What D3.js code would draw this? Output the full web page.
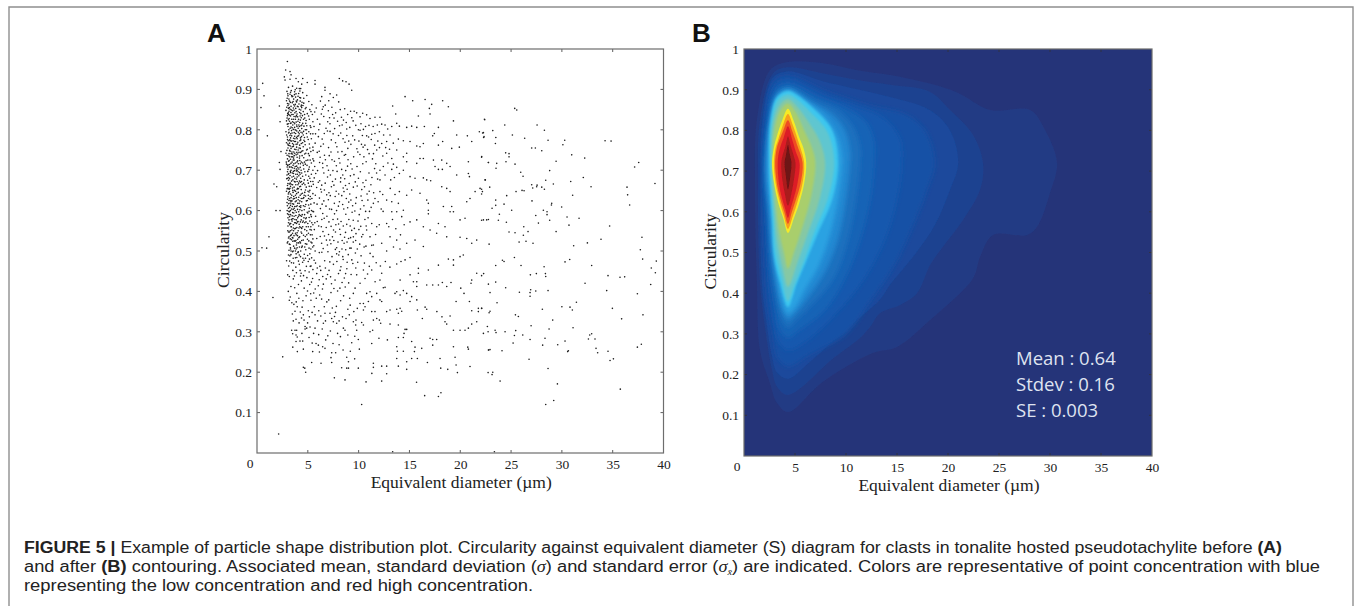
<!DOCTYPE html>
<html>
<head>
<meta charset="utf-8">
<script src="https://cdn.jsdelivr.net/npm/d3@7"></script>
<style>
html, body { margin: 0; background: #fff; }
svg { display: block; }
.tick text, .tick-zero { font-family: "Liberation Serif", serif; font-size: 13.5px; fill: #222; }
.ax-title { font-family: "Liberation Serif", serif; font-size: 17.5px; fill: #222; }
.panel { font-family: "Liberation Sans", sans-serif; font-weight: 700; font-size: 26px; fill: #111; }
.stats { font-family: "Open Sans", sans-serif; font-size: 18.5px; fill: #dfe3f0; }
.cap { font-family: "Liberation Sans", sans-serif; font-size: 16px; fill: #222; }
</style>
</head>
<body>
<div id="chart"></div>
<script>
// all lists below are flat: diameter, circularity, diameter, circularity ...
let xTicks = [5, 10, 15, 20, 25, 30, 35, 40];
let yTicks = [0.1, 0.2, 0.3, 0.4, 0.5, 0.6, 0.7, 0.8, 0.9, 1];

// panel A
let strayPts = [2.99,.969,2.82,.948,3.25,.944,3.35,.936,2.69,.931,3.25,.925,2.76,.923,3.84,.927,4.07,.919,4.5,.927,4.4,.913,4.95,.917,.56,.915,.69,.884,.39,.855,1.02,.785,2.2,.859,2.27,.82,2.36,.746,2.2,.719,2.27,.702,1.67,.666,1.94,.659,1.87,.6,2.27,.6,1.18,.535,.49,.508,.95,.507,1.57,.385,2.53,.238,2.13,.047,10.3,.12,16.5,.142,17.85,.14,18.1,.149,13.35,.003,23.36,.003];

let tailPts = [25.36,.853,25.56,.849,22.41,.825,24.38,.812,27.56,.812,28.28,.799,23.2,.798,22.2,.792,25.13,.787,23.5,.781,22.3,.781,26.34,.779,28.64,.774,30.28,.774,30.1,.763,23.46,.766,34.25,.773,34.84,.772,27.03,.755,27.39,.755,28.02,.748,24.47,.743,24.8,.741,24.8,.733,30.97,.738,22.1,.732,32.25,.73,24.5,.721,22.77,.719,23.59,.717,25.39,.715,29.43,.722,37.56,.719,37.16,.708,23.52,.705,28.8,.699,25.95,.695,26.18,.685,32.11,.682,22.47,.676,28.41,.675,30.87,.672,29.16,.666,39.16,.667,27.03,.664,27.56,.663,27.52,.659,28.02,.658,27.13,.656,28.28,.653,22.9,.658,22.1,.653,32.87,.659,36.41,.658,26.08,.65,26.28,.649,25.49,.647,22.1,.641,24.57,.637,31.06,.638,36.47,.639,23.49,.626,27.06,.624,29,.618,28.97,.614,23.49,.613,24.31,.616,36.67,.614,29.98,.609,23.13,.606,25.06,.601,28.18,.601,28.54,.597,28.54,.59,23.85,.591,27.43,.588,30.51,.584,31.69,.581,22.1,.576,22.6,.577,23.75,.576,28.8,.576,24.54,.571,27.69,.569,30.7,.564,34.7,.562,26.25,.56,26.67,.548,24.8,.547,25.39,.545,29.43,.548,26.21,.539,37.88,.534,33.85,.529,26.47,.524,25.79,.522,27.16,.519,32.51,.52,22.84,.517,31.16,.513,37.72,.503,25.33,.484,24.15,.477,30.77,.479,37.95,.48,
24.31,.474,23.49,.464,25.98,.464,28.25,.461,30.31,.473,32.93,.464,39.29,.475,38.8,.458,22.1,.439,22.3,.444,26.9,.441,27.49,.444,28.38,.444,28.41,.437,34.54,.439,35.72,.435,36.18,.436,39.2,.446,23.49,.423,22.77,.418,32.28,.42,38.74,.417,24.47,.409,26.93,.404,26.87,.397,27.43,.401,28.64,.402,25.82,.398,22.93,.397,34.41,.402,37.43,.394,26.87,.388,23.62,.372,31.43,.373,30,.362,30.8,.361,31.03,.354,34.97,.358,22.1,.358,28.08,.356,22.93,.351,22.84,.347,25.43,.342,25.72,.338,37.98,.342,35.88,.332,29.1,.329,26.97,.315,22.67,.313,31.1,.31,28.74,.307,23.43,.304,22.74,.3,23.52,.298,24.41,.3,25.46,.303,22.28,.296,25.33,.291,26.15,.292,32.93,.295,32.74,.292,28.34,.284,26.87,.281,32.61,.282,33.26,.282,30.31,.277,25.2,.272,29.59,.268,28.11,.267,37.82,.269,37.43,.262,33.36,.259,22.93,.256,22.8,.255,24.11,.253,30.64,.253,30.57,.251,34.54,.252,33.52,.248,35.07,.233,34.74,.229,26.77,.232,28.64,.209,22.74,.199,23.2,.2,23.13,.194,23.92,.178,29.56,.171,35.75,.158,29.2,.13,28.41,.12];

let lowerPts = [15.7,.175,10.73,.176,12.27,.178,8.66,.181,7.61,.186,4.79,.2,4.56,.212,4.7,.21,11.3,.197,12.76,.196,14.73,.207,13.91,.215,12.27,.215,12.76,.215,11.45,.222,11.45,.212,9.97,.21,9,.21,8.33,.211,8.83,.21,9,.226,8.83,.237,7.35,.224,7.28,.236,7.74,.248,7.35,.248,5.38,.224,6.3,.222,6.14,.25,5.48,.251,5.81,.271,6.04,.267,6.46,.263,6.69,.259,6.76,.28,4.56,.257,3.97,.251,4.5,.277,4.23,.277,3.84,.276,3.41,.304,3.74,.304,3.9,.304,3.51,.295,3.84,.292,4.73,.313,4.89,.309,4.73,.307,3.84,.331,4.56,.342,5.15,.337,5.71,.342,5.05,.352,5.64,.362,6.69,.346,7.35,.333,7.51,.325,7.84,.321,6.53,.321,5.71,.309,8.5,.309,8.66,.304,9.48,.325,9.74,.329,9.71,.317,10.3,.323,10.47,.317,9.81,.304,9.97,.281,10.07,.257,11.29,.271,11.12,.3,11.38,.304,12,.284,12.83,.28,11.45,.329,11.78,.333,12.04,.329,12.17,.321,10.47,.354,10.63,.362,11.29,.35,11.61,.35,12.76,.35,13.09,.354,13.75,.356,14.08,.358,13.91,.346,14.24,.351,13.09,.319,13.91,.317,14.57,.306,14.73,.306,14.47,.296,13.91,.286,14.4,.286,15.22,.276,13.75,.263,13.81,.252,14.4,.252,15.55,.262,15.49,.251,16.21,.259,13.75,.234,14.73,.226,15.22,.234,15.78,.234,16.77,.224,18.01,.234,18.08,.21,18.77,.207,19.33,.263,19.49,.237,19.59,.218,19.72,.199,20.96,.214,20.74,.262,20.8,.257,22.77,.255,16.27,.333,17.03,.284,17.29,.281,17.68,.281,17.29,.267,17.7,.35,18.2,.337,18.5,.325,18.67,.319,19,.339,19.33,.304,19.98,.304,20.47,.304,20.8,.309,21.13,.319,21.62,.325,21.13,.352,21.78,.35,22.11,.358,21.78,.358,
13.58,.395,13.75,.399,14.08,.391,14.4,.402,14.73,.395,15.22,.387,14.08,.428,14.17,.474,14.57,.478,15.06,.484,13.75,.468,15.06,.441,15.39,.424,15.72,.424,15.88,.457,15.88,.445,15.72,.412,16.7,.416,17.29,.416,17.85,.416,18.24,.422,18.67,.412,19.09,.422,20.05,.408,19.59,.375,20.9,.375,20.37,.395,21.06,.42,21.13,.428,21.62,.445,19.33,.478,18.83,.48,20.3,.49,19.98,.486,19.33,.465,17.85,.465,16.86,.453,16.54,.361,16.7,.356,15.78,.354,15.72,.379,15.06,.375,12.27,.445,12.1,.428,12.43,.409,12.6,.41,11.62,.424,11.78,.395,11.12,.399,10.79,.395,10.47,.453,10.63,.432,11.29,.453,9.81,.441,10.14,.42,9.65,.408,9.48,.395,10.14,.37,10.47,.37,10.96,.375,12.1,.379,12.27,.375,11.29,.387,
8.23,.377,7.41,.359,6.87,.374,6.36,.381,7.72,.348,8.94,.356,9.17,.366,8.41,.337,6.08,.352,5.31,.378,4.44,.361,3.63,.368,3.27,.386,3.92,.395,4.83,.389,5.58,.396,6.44,.406,7.06,.379,7.93,.401,8.68,.411,9.12,.383,8.37,.422,7.57,.407,6.81,.431,6.03,.414,5.19,.417,4.37,.426,3.71,.409,3.18,.437,3.88,.446,4.73,.451,5.47,.432,6.27,.452,7.24,.436,8.02,.444,8.84,.456,9.43,.469,8.26,.461,7.52,.467,6.66,.476,5.93,.458,5.04,.474,4.16,.467,3.53,.452,3.02,.441,2.91,.476,3.34,.491,4.03,.496,4.77,.482,5.62,.477,6.38,.497,7.17,.473,8.05,.49,8.87,.472,9.68,.495,10.57,.47,11.42,.486,12.63,.474,13.08,.46,
3.43,.372,3.86,.374,4.12,.383,4.52,.377,4.97,.401,5.28,.394,5.83,.383,6.17,.391,6.62,.362,7.28,.397,7.81,.363,8.52,.389,3.34,.412,3.57,.431,4.08,.417,4.28,.438,4.64,.408,4.91,.434,5.36,.423,5.73,.406,5.88,.444,6.12,.429,6.53,.418,6.94,.442,7.33,.419,7.68,.428,8.16,.408,8.59,.433,9.02,.421,9.26,.442,9.72,.458,3.12,.463,3.39,.471,3.68,.438,3.78,.483,4.24,.452,4.49,.472,4.58,.439,5.13,.448,5.32,.463,5.76,.47,6.19,.462,6.47,.437,6.73,.458,7.09,.452,7.38,.486,7.86,.474,8.18,.452,8.48,.479,8.72,.444,9.33,.478,9.91,.472,10.24,.488,10.88,.443,11.05,.462,11.73,.471,12.14,.463,3.08,.4,3.18,.378,3.74,.351,3.96,.362,4.26,.349,4.63,.329,4.98,.322,5.42,.348,5.96,.327,6.28,.339,6.74,.327,7.18,.346,7.63,.338,8.08,.327,8.76,.333,9.08,.342,9.53,.35,9.87,.358,3.48,.344,3.57,.327,4.14,.322,4.38,.334,5.22,.312,5.57,.296,6.07,.293,6.42,.307,6.97,.29,7.22,.302,7.93,.296,8.21,.288,8.94,.292,9.32,.273,9.62,.289,3.52,.262,3.96,.287,4.42,.296,5.12,.286,5.43,.272,7.48,.271,8.08,.268,8.47,.255,9.18,.252,9.61,.233];

let midPts = [6.69,.905,6.69,.898,8.1,.927,8.43,.921,8.76,.919,9.06,.913,9.32,.898,5.71,.922,5.71,.913,7.84,.886,7.19,.889,7.51,.88,6.37,.882,14.57,.882,15.32,.872,16.54,.875,18.27,.872,18.83,.857,17.19,.863,16.96,.853,17.03,.839,13.35,.859,13.65,.839,15.88,.834,19.33,.822,22.38,.826,9.81,.842,10.4,.841,10.14,.832,10.79,.837,11.12,.828,11.61,.831,12.1,.831,11.84,.812,12.27,.814,12.6,.812,13.75,.816,14.01,.809,13.26,.808,14.73,.806,15.22,.809,15.72,.806,16.47,.808,17.85,.806,17.45,.791,17.29,.785,19.65,.787,20.7,.785,21.88,.795,22.28,.793,22.34,.783,21.13,.771,22.11,.734,20.8,.721,22.77,.719,19.16,.754,19.91,.757,18.27,.771,17.85,.762,16.37,.766,15.72,.76,16.04,.758,15.06,.771,14.4,.773,13.91,.777,13.09,.787,12.76,.771,12.27,.766,11.61,.791,11.29,.789,10.79,.785,10.14,.799,10.47,.801,11.78,.75,13.75,.75,14.73,.742,16.04,.729,16.37,.729,15.72,.717,14.73,.721,14.4,.733,13.26,.729,12.76,.742,18.18,.725,18.67,.717,17.52,.709,17.85,.702,18.24,.702,19,.709,17.36,.725,16.37,.681,16.7,.676,17.09,.674,15.55,.68,15.06,.684,14.4,.7,13.75,.707,14.01,.692,13.26,.702,12.43,.709,12.1,.7,12.1,.676,12.6,.688,18.18,.659,18.67,.655,19,.647,19.65,.688,20.8,.692,20.9,.684,21.46,.647,21.95,.655,22.18,.647,22.44,.676,20.64,.622,20.96,.63,19.16,.61,19.33,.597,19,.597,19.98,.577,20.47,.581,22.28,.577,22.77,.578,20.64,.531,19.98,.534,21.13,.519,21.62,.527,18.34,.61,16.86,.618,16.86,.601,16.86,.592,16.7,.626,16.04,.643,15.22,.651,14.73,.638,14.01,.647,14.4,.601,13.91,.618,13.26,.622,12.76,.626,12.1,.647,11.61,.63,11.45,.618,12.76,.568,13.26,.597,13.75,.597,14.24,.585,15.06,.572,15.72,.577,16.37,.56,17.03,.552,17.68,.544,18.67,.535,18.5,.56,17.85,.568,13.09,.535,11.78,.56,11.29,.568,13.75,.527,15.55,.527,16.37,.511,14.73,.519,10.79,.552,10.3,.535,9.48,.535,11.12,.535,12.27,.519,11.45,.515];

let innerPts = [6.24,.871,5.83,.854,6.71,.861,7.37,.856,8.04,.869,8.63,.852,9.21,.846,6.33,.839,7.02,.847,7.74,.842,8.31,.831,8.92,.838,9.46,.822,5.94,.826,6.57,.833,7.18,.815,7.93,.821,8.51,.824,9.13,.806,9.72,.811,5.61,.808,6.18,.814,6.93,.797,7.64,.803,8.24,.792,8.83,.802,9.42,.785,10.03,.772,10.62,.762,11.24,.776,6.04,.783,6.62,.791,7.31,.775,8.02,.786,8.66,.769,9.24,.764,9.83,.753,10.44,.757,11.03,.741,5.72,.767,6.28,.759,7.04,.756,7.73,.768,8.36,.746,8.94,.754,9.51,.733,10.13,.739,10.74,.721,11.36,.728,5.93,.744,6.64,.737,7.28,.745,8.07,.729,8.59,.737,9.23,.716,9.84,.709,10.41,.716,11.02,.693,11.57,.704,5.58,.723,6.21,.732,6.89,.711,7.62,.722,8.33,.702,8.91,.71,9.54,.689,10.17,.696,10.72,.675,11.31,.682,5.96,.699,6.48,.706,7.22,.688,7.88,.697,8.63,.679,9.19,.686,9.86,.661,10.43,.669,11.04,.648,5.63,.681,6.17,.674,6.94,.683,7.57,.663,8.22,.671,8.87,.653,9.48,.658,10.24,.636,10.83,.641,5.87,.657,6.63,.651,7.32,.659,8.04,.641,8.56,.647,9.24,.626,9.77,.632,10.52,.612,11.07,.598,5.74,.638,6.34,.646,7.02,.627,7.69,.635,8.43,.615,9.03,.621,9.63,.599,10.18,.604,10.93,.582,5.91,.616,6.58,.624,7.34,.603,8.01,.611,8.74,.591,9.36,.596,9.94,.574,10.62,.578,5.57,.597,6.24,.605,6.88,.586,7.63,.592,8.27,.573,9.04,.578,9.58,.556,10.21,.561,5.93,.573,6.61,.581,7.29,.561,8.03,.567,8.71,.546,9.32,.551,9.87,.505,10.54,.51,11.13,.494,5.64,.553,6.33,.56,7.04,.541,7.72,.547,8.38,.526,9.01,.531,5.88,.531,6.64,.537,7.27,.518,7.97,.522,8.73,.503,9.26,.507,5.59,.513,6.36,.519,6.98,.498,7.71,.504,8.44,.486,
6.52,.857,7.06,.872,7.58,.829,8.19,.85,8.78,.818,9.33,.83,6.08,.8,6.41,.777,6.79,.804,7.14,.83,7.49,.79,7.86,.758,8.12,.81,8.47,.778,8.72,.739,9.03,.772,9.61,.775,9.92,.745,10.28,.764,10.52,.733,10.88,.751,11.46,.741,6.12,.747,6.46,.717,6.73,.726,7.11,.736,7.47,.699,7.81,.711,8.16,.718,8.44,.688,8.73,.699,9.07,.667,9.36,.703,9.67,.671,9.98,.68,10.31,.652,10.58,.659,10.91,.626,11.21,.664,11.48,.644,5.78,.692,6.03,.67,6.37,.663,6.71,.668,7.08,.644,7.43,.672,7.79,.648,8.11,.622,8.48,.656,8.79,.63,9.13,.641,9.41,.612,9.71,.618,10.06,.59,10.34,.625,10.69,.598,11.23,.608,6.14,.631,6.47,.593,6.79,.611,7.14,.604,7.48,.578,7.83,.6,8.14,.554,8.54,.604,8.83,.566,9.17,.562,9.47,.576,9.74,.543,10.03,.553,10.42,.541,10.74,.562,5.77,.586,6.07,.562,6.49,.548,6.81,.558,7.17,.527,7.53,.552,7.84,.508,8.21,.541,8.57,.519,8.86,.522,9.14,.507,9.47,.522,9.71,.526,10.11,.517,5.72,.5,6.13,.496,6.51,.506,6.83,.527,7.42,.535,7.84,.493,8.36,.505,8.98,.491,9.21,.533,10.72,.512,11.29,.514,11.67,.541,12.03,.565,12.41,.598,12.37,.64,11.87,.678,11.69,.716,12.38,.735,12.05,.756,11.89,.772,12.46,.787,12.86,.802,13.04,.752,13.41,.767,13.52,.682,13.11,.655,13.58,.64,13.33,.578,12.97,.56,13.66,.555,14.12,.54,14.48,.565,12.76,.5,13.43,.51,14.07,.505,
5.68,.844,6.43,.851,6.96,.82,7.44,.838,8.38,.812,5.76,.79,6.53,.765,7.19,.796,7.96,.745,8.84,.786,5.52,.749,6.16,.719,7.38,.726,8.24,.681,8.96,.726,5.68,.709,6.58,.693,7.03,.7,7.72,.678,8.71,.662,5.54,.665,6.27,.653,6.86,.639,7.61,.618,8.34,.637,5.62,.619,6.41,.616,7.21,.637,7.93,.579,8.92,.607,5.69,.57,6.38,.578,7.08,.572,7.76,.565,8.49,.562,6.22,.536,6.93,.515,7.56,.526,8.11,.498,8.62,.534,
11.58,.762,11.77,.693,11.92,.622,12.22,.604,10.98,.782,10.37,.786,9.98,.8,9.56,.846,10.23,.815,10.68,.808,11.02,.811,11.43,.808,12.04,.795,12.66,.756,12.88,.718,13.16,.676,13.42,.715];

let corePts = [3.1,.905,3.5,.908,3.9,.903,4.3,.902,2.95,.895,3.3,.893,3.7,.894,4.1,.89,4.5,.892,3.05,.884,3.45,.882,3.8,.881,4.2,.88,4.6,.878,4.9,.885,2.9,.872,3.2,.871,3.55,.87,3.9,.869,4.25,.871,4.6,.866,5.1,.87,5.4,.862,3.05,.86,3.35,.858,3.7,.859,4.05,.857,4.4,.855,4.75,.852,5.2,.85,2.85,.848,3.15,.846,3.5,.847,3.85,.845,4.2,.843,4.55,.845,4.95,.84,5.45,.838,3,.835,3.3,.834,3.65,.833,4,.832,4.35,.83,4.7,.829,5.15,.826,5.5,.82,2.9,.822,3.2,.821,3.5,.82,3.85,.819,4.2,.818,4.5,.816,4.9,.81,5.3,.806,3.05,.808,3.35,.807,3.7,.806,4.05,.804,4.4,.803,4.75,.8,5.1,.795,5.5,.79,2.85,.795,3.15,.794,3.45,.792,3.8,.791,4.15,.79,4.55,.787,4.95,.782,5.35,.778,3,.782,3.3,.78,3.6,.779,3.95,.778,4.3,.775,4.7,.771,5.15,.765,5.5,.757,2.9,.768,3.2,.767,3.5,.766,3.85,.764,4.2,.762,4.55,.758,4.95,.752,5.3,.746,3.05,.755,3.35,.754,3.7,.752,4.05,.75,4.4,.747,4.8,.742,5.15,.736,5.5,.728,2.85,.742,3.15,.741,3.5,.74,3.85,.738,4.2,.735,4.6,.731,5,.725,5.35,.718,3,.728,3.3,.727,3.65,.725,4,.723,4.35,.72,4.75,.715,5.15,.708,5.5,.7,2.9,.715,3.2,.714,3.55,.712,3.9,.71,4.25,.707,4.6,.703,5,.697,5.35,.69,3.05,.702,3.35,.7,3.7,.699,4.05,.696,4.4,.693,4.8,.688,5.2,.68,5.5,.672,2.95,.688,3.25,.687,3.6,.685,3.95,.683,4.3,.68,4.65,.676,5.05,.668,5.35,.66,3.1,.675,3.4,.673,3.75,.671,4.1,.668,4.45,.665,4.85,.658,5.2,.65,5.5,.642,3,.662,3.3,.66,3.65,.658,4,.655,4.35,.652,4.7,.645,5.05,.638,5.4,.63,2.9,.648,3.2,.647,3.55,.645,3.9,.642,4.25,.638,4.6,.632,4.95,.625,5.3,.616,3.05,.634,3.35,.632,3.7,.63,4.05,.627,4.4,.622,4.8,.615,5.15,.606,5.5,.598,2.95,.62,3.25,.618,3.6,.616,3.95,.612,4.3,.608,4.65,.602,5,.594,5.35,.585,3.1,.606,3.4,.604,3.75,.6,4.1,.597,4.45,.59,4.85,.582,5.2,.574,5.5,.565,3,.592,3.3,.59,3.65,.586,4,.582,4.35,.577,4.7,.57,5.05,.56,5.35,.552,3.15,.577,3.45,.574,3.8,.57,4.15,.566,4.5,.56,4.9,.55,5.25,.54,5.5,.53,3.05,.562,3.35,.56,3.7,.555,4.05,.55,4.4,.544,4.75,.536,5.1,.525,3.2,.547,3.5,.544,3.85,.54,4.2,.535,4.55,.527,4.9,.517,5.3,.505,3.1,.532,3.4,.528,3.75,.524,4.1,.52,4.45,.512,4.8,.503,5.2,.493,3.25,.516,3.6,.512,3.95,.508,4.3,.5,4.65,.492,3.15,.502,3.5,.498,3.85,.493,
3.25,.888,3.62,.862,3.98,.874,4.32,.84,3.12,.838,3.42,.826,3.78,.826,4.12,.812,3.08,.815,3.4,.798,3.75,.8,4.1,.785,3.22,.775,3.55,.773,3.9,.757,3.28,.76,3.62,.745,3.95,.732,3.12,.735,3.45,.72,3.78,.718,4.12,.703,3.18,.708,3.48,.693,3.82,.69,4.18,.673,3.12,.682,3.5,.664,3.82,.664,3.1,.654,3.42,.638,3.78,.638,4.15,.618,3.15,.625,3.48,.61,3.85,.61,3.2,.597,3.55,.58,3.88,.577,3.25,.568,3.6,.55,3.95,.545,3.3,.538];

let clusterPts = [3.37,.897,3.84,.889,4.22,.896,2.97,.878,3.61,.876,4.04,.883,4.43,.868,3.13,.864,3.47,.867,3.81,.853,4.13,.864,4.52,.86,2.93,.856,3.26,.851,3.58,.854,3.94,.839,4.31,.849,4.68,.838,3.08,.842,3.43,.838,3.73,.842,4.09,.826,4.47,.835,4.83,.823,2.96,.829,3.28,.816,3.59,.826,3.91,.812,4.27,.824,4.62,.809,3.13,.8,3.52,.812,3.84,.799,4.17,.808,4.58,.796,4.87,.791,2.92,.787,3.24,.786,3.66,.793,3.97,.784,4.33,.794,4.67,.781,5.04,.776,3.07,.773,3.38,.772,3.71,.784,4.02,.769,4.38,.783,4.74,.763,3.16,.761,3.47,.758,3.79,.771,4.14,.755,4.49,.768,4.88,.75,2.94,.749,3.26,.747,3.58,.759,3.92,.744,4.26,.754,4.69,.74,5.06,.741,3.1,.722,3.41,.733,3.72,.742,4.07,.716,4.44,.736,4.83,.724,2.88,.72,3.24,.708,3.6,.73,3.87,.703,4.21,.724,4.56,.712,4.92,.712,3,.696,3.31,.694,3.67,.705,3.98,.69,4.34,.7,4.71,.696,5.09,.685,2.92,.679,3.2,.679,3.53,.676,3.88,.678,4.24,.69,4.59,.668,4.98,.675,3.04,.667,3.36,.665,3.69,.65,4.03,.664,4.38,.672,4.77,.651,5.14,.66,2.96,.654,3.29,.641,3.61,.635,3.94,.653,4.29,.66,4.64,.638,5.02,.648,3.08,.641,3.44,.624,3.76,.622,4.11,.633,4.47,.643,4.86,.624,5.22,.628,2.99,.612,3.3,.613,3.66,.606,4.01,.618,4.36,.63,4.72,.61,5.08,.614,3.14,.598,3.51,.595,3.87,.596,4.22,.602,4.57,.612,4.94,.596,5.29,.59,3.05,.582,3.38,.578,3.73,.578,4.08,.586,4.42,.6,4.79,.58,5.13,.583,3.22,.565,3.57,.565,3.92,.558,4.27,.572,4.62,.582,5,.568,5.39,.57,3.1,.547,3.43,.552,3.79,.544,4.13,.557,4.49,.571,4.85,.56,5.22,.553,3.27,.53,3.64,.538,4,.529,4.34,.547,4.7,.553,5.06,.544,5.42,.54,3.18,.517,3.52,.524,3.88,.515,4.22,.523,4.58,.539,4.96,.529,5.31,.522,3.35,.5,3.7,.507,4.06,.498,4.4,.509,4.76,.518,5.12,.507,5.48,.51,2.98,.52,3.24,.488,3.56,.482,3.92,.484,4.28,.486,4.62,.477,4.98,.489,5.38,.483,
3.69,.887,3.18,.855,4.34,.858,4.83,.855,5.31,.845,3.34,.843,3.88,.835,4.58,.826,5.08,.834,3.16,.828,3.63,.818,4.33,.81,4.8,.816,5.24,.81,3.46,.805,3.92,.797,4.46,.792,4.88,.8,3.32,.79,3.68,.771,4.22,.773,4.62,.774,5.27,.79,3.03,.765,3.44,.745,4,.74,4.51,.748,5.2,.755,3.22,.733,3.56,.725,4.18,.73,4.68,.72,5.23,.725,3.01,.712,3.38,.708,3.96,.7,4.5,.718,5.1,.702,3.13,.692,3.58,.697,4.12,.686,4.49,.685,5.28,.672,3.27,.668,3.72,.68,4.2,.659,4.72,.664,5.12,.646,3.17,.653,3.52,.65,4.06,.645,4.52,.63,5.24,.635,3.34,.622,3.86,.624,4.18,.61,4.78,.636,5.07,.63,3.22,.608,3.62,.594,4.25,.588,4.68,.59,5.36,.6,3.13,.59,3.48,.58,3.98,.572,4.55,.574,5.12,.598,3.38,.56,3.8,.556,4.32,.558,4.82,.572,5.3,.56,3.48,.533,3.98,.538,4.4,.526,4.9,.54,5.4,.52,3.29,.508,3.78,.5,4.18,.51,4.7,.51,5.16,.48,3.1,.49,3.6,.47,4.08,.475,4.52,.482,5.24,.462,3.22,.475,3.82,.46,4.34,.445,4.86,.462,5.5,.454];

// the near-black column around 3 to 4.4 um
let columnPts = [3.03,.889,3.41,.885,3.76,.899,4.16,.902,3.14,.876,3.52,.883,3.86,.871,4.29,.879,3,.865,3.29,.868,3.64,.849,3.97,.858,4.37,.861,3.1,.853,3.39,.849,3.77,.863,4.16,.851,3.02,.84,3.23,.836,3.55,.838,3.82,.832,4.24,.834,3.09,.825,3.36,.817,3.71,.815,4.03,.821,4.41,.812,2.98,.814,3.26,.804,3.57,.801,3.93,.808,4.2,.798,3.11,.792,3.41,.785,3.73,.778,4.07,.794,4.36,.766,3,.776,3.27,.773,3.6,.763,3.89,.781,4.28,.78,3.08,.762,3.37,.741,3.66,.736,3.98,.765,4.3,.744,2.96,.737,3.21,.749,3.52,.733,3.83,.751,4.13,.744,3.06,.713,3.34,.717,3.63,.716,3.93,.72,4.27,.716,2.97,.708,3.16,.724,3.48,.706,3.76,.709,4.02,.706,3.07,.69,3.28,.697,3.59,.692,3.88,.698,4.2,.694,2.99,.68,3.18,.666,3.44,.683,3.68,.672,3.95,.672,4.28,.67,3.03,.655,3.24,.655,3.49,.656,3.8,.648,4.08,.654,4.36,.641,3.12,.644,3.33,.625,3.57,.629,3.87,.632,4.22,.624,3.01,.628,3.2,.63,3.47,.617,3.72,.61,3.99,.603,4.31,.612,3.09,.617,3.29,.6,3.56,.603,3.82,.588,4.15,.59,2.97,.6,3.21,.585,3.46,.587,3.7,.57,4.04,.573,4.38,.586,3.1,.57,3.32,.568,3.58,.557,3.89,.568,4.21,.56,3.03,.55,3.28,.55,3.54,.532,3.83,.526,4.12,.533,4.4,.556,3.15,.535,3.39,.54,3.66,.525,3.93,.52,4.28,.52,3.04,.523,3.3,.505,3.56,.5,3.85,.505,4.16,.49];

// panel B, filled contour outlines from the lowest band to the peak
let c01 = [4.31,.968,7.8,.965,11.1,.948,14.3,.936,18.2,.915,21,.892,24.12,.85,28.04,.85,29.51,.801,30.69,.72,30,.646,28.73,.563,27.75,.543,24.41,.543,23.14,.489,22.45,.437,18.24,.334,15,.268,12.6,.253,7.7,.182,4.31,.108,3.24,.13,2.55,.179,1.57,.26,1.27,.425,1.08,.661,1.27,.826,2.55,.948];
let c02 = [4.31,.955,7.8,.94,11.1,.924,14.3,.912,18.2,.895,20.2,.85,22.45,.789,23.43,.72,23.14,.654,21.47,.58,19.5,.514,18.24,.469,16.96,.4,15.29,.371,13.33,.351,12.35,.317,11.37,.29,8.9,.243,4.31,.15,3.24,.17,2.75,.211,2.16,.3,1.57,.425,1.37,.661,1.57,.826,2.85,.94];
let c03 = [4.31,.945,7.8,.92,10.4,.905,14.3,.882,18.2,.85,20.2,.8,21,.72,20.2,.654,18.73,.568,16.9,.5,14.3,.42,13.3,.383,10.4,.32,6.4,.23,4.31,.19,3.24,.205,2.7,.25,2.2,.33,1.76,.425,1.6,.661,1.8,.826,2.85,.93];
let c04 = [4.31,.935,8.3,.895,12.35,.862,15.78,.84,17.75,.8,18.7,.72,17.9,.65,16.5,.56,14.8,.47,12.4,.38,10,.3,6.5,.25,4.31,.22,3.3,.24,2.8,.3,2.3,.37,1.96,.5,1.75,.661,2,.82,2.9,.92];
let c05 = [4.31,.925,8,.885,10.9,.86,13.7,.83,15.3,.78,15.5,.72,15,.63,13.8,.53,11.9,.44,9.4,.36,6,.28,4.31,.26,3.4,.28,2.9,.33,2.45,.42,2.16,.56,1.9,.7,2.2,.82,3,.91];
let c06 = [4.31,.915,7.5,.88,10,.855,12,.82,12.8,.77,12.8,.72,12.4,.63,11.4,.53,10,.44,8,.36,5.5,.31,4.31,.29,3.5,.31,3,.37,2.55,.45,2.3,.58,2,.7,2.35,.82,3.1,.9];
let c07 = [4.31,.908,7,.875,9.2,.85,10.7,.81,11.4,.76,11.4,.72,11,.63,10.2,.53,8.9,.44,7,.38,5,.33,4.31,.315,3.6,.34,3.1,.4,2.65,.48,2.4,.59,2.1,.7,2.45,.82,3.2,.893];
let c08 = [4.31,.902,6.6,.87,8.6,.84,9.9,.8,10.4,.75,10.4,.72,10,.63,9.2,.53,7.9,.45,6.3,.39,5,.35,4.31,.335,3.7,.36,3.2,.42,2.75,.5,2.5,.6,2.2,.7,2.55,.82,3.25,.887];
let c09 = [4.31,.899,6.2,.87,7.9,.835,9.1,.79,9.6,.74,9.6,.71,9.2,.63,8.4,.54,7.2,.46,6,.41,5,.365,4.31,.35,3.75,.38,3.3,.43,2.85,.51,2.6,.6,2.3,.7,2.6,.82,3.3,.884];
let c10 = [4.31,.897,5.2,.887,6.76,.855,8.63,.801,9.22,.72,8.63,.629,7.25,.548,6.27,.489,5.2,.425,4.31,.366,3.53,.425,2.94,.489,2.75,.58,2.45,.72,2.65,.833,3.24,.882];
let c11 = [4.31,.888,5.2,.876,6.5,.845,8.2,.795,8.85,.72,8.2,.63,6.9,.55,5.9,.48,4.95,.42,4.31,.38,3.65,.44,3.1,.5,2.9,.58,2.6,.72,2.8,.83,3.35,.875];
let c12 = [4.31,.877,5.15,.86,6.2,.825,7.4,.775,7.95,.72,7.4,.63,6.3,.55,5.3,.48,4.31,.415,3.8,.46,3.25,.53,3,.6,2.72,.72,2.9,.82,3.5,.862];
let c13 = [4.31,.866,5.05,.845,5.9,.8,6.7,.755,7,.72,6.6,.64,5.7,.56,4.9,.5,4.31,.46,3.9,.5,3.4,.56,3.1,.63,2.82,.72,3,.8,3.6,.85];
let c14 = [4.31,.853,4.85,.825,5.4,.784,5.85,.755,6.1,.72,5.9,.67,5.4,.62,4.9,.585,4.31,.548,3.85,.585,3.38,.62,2.95,.67,2.75,.72,2.95,.76,3.2,.784,3.75,.825];
let c15 = [4.31,.84,4.8,.812,5.3,.775,5.9,.72,5.7,.665,5.25,.625,4.8,.59,4.31,.558,3.9,.59,3.5,.625,3.1,.67,2.93,.72,3.08,.755,3.32,.775,3.8,.812];
let c16 = [4.31,.825,4.75,.797,5.2,.765,5.75,.72,5.55,.67,5.1,.63,4.7,.6,4.31,.57,3.95,.6,3.58,.63,3.22,.67,3.05,.72,3.2,.755,3.45,.775,3.85,.8];
let c17 = [4.31,.81,4.7,.78,5.05,.75,5.45,.72,5.25,.67,4.9,.635,4.6,.61,4.31,.585,4,.61,3.7,.635,3.42,.67,3.3,.72,3.45,.75,3.92,.785];
let c18 = [4.31,.785,4.6,.76,4.85,.74,5.05,.72,4.9,.68,4.65,.645,4.31,.615,4,.645,3.75,.68,3.65,.72,3.8,.74,4.05,.76];
let c19 = [4.31,.765,4.5,.74,4.65,.72,4.55,.69,4.31,.655,4.1,.69,3.98,.72,4.12,.74];

let bands = [c01, c02, c03, c04, c05, c06, c07, c08, c09, c10, c11, c12, c13, c14, c15, c16, c17, c18, c19];
let bandColors = ["#233b84", "#1d4290", "#1a499c", "#1751a6", "#1659ae", "#1863b6", "#1a70be", "#2088d2", "#2aa2e2", "#3cc6ee", "#5fc6d0", "#86c8a4", "#a9ce6c", "#f6ea28", "#f7a01e", "#ef4e23", "#dc1f26", "#aa1a1e", "#6e1214"];

let statLines = ["Mean : 0.64", "Stdev : 0.16", "SE : 0.003"];

let svg = d3.select("#chart").append("svg")
    .attr("width", 1357)
    .attr("height", 606);

// page frame, open at the bottom
svg.append("path")
    .attr("d", "M9,606V7H1353V606")
    .attr("fill", "none")
    .attr("stroke", "#8f8f8f")
    .attr("stroke-width", 1.4);

function toPairs(flat){
    return d3.range(0, flat.length, 2).map(i => [flat[i], flat[i + 1]]);
}

function drawAxes(g, x, y, left, top, right, bottom){
    // ticks point inward on all four sides
    g.append("g").attr("transform", `translate(0,${bottom})`)
        .call(d3.axisBottom(x).tickValues(xTicks).tickSize(0).tickPadding(6).tickFormat(d3.format("d")))
        .call(a => a.select(".domain").remove());
    g.append("g").attr("transform", `translate(${left},0)`)
        .call(d3.axisLeft(y).tickValues(yTicks).tickSize(0).tickPadding(5).tickFormat(d => d === 1 ? "1" : d3.format(".1f")(d)))
        .call(a => a.select(".domain").remove());
    g.append("text").attr("class", "tick-zero")
        .attr("x", left - 7).attr("y", bottom + 15)
        .attr("text-anchor", "middle")
        .text("0");
    let ticks = g.append("g").attr("stroke", "#333").attr("stroke-width", 0.8);
    xTicks.slice(0, -1).forEach(t => {
        ticks.append("line").attr("x1", x(t)).attr("x2", x(t)).attr("y1", bottom).attr("y2", bottom - 3);
        ticks.append("line").attr("x1", x(t)).attr("x2", x(t)).attr("y1", top).attr("y2", top + 3);
    });
    yTicks.slice(0, -1).forEach(t => {
        ticks.append("line").attr("y1", y(t)).attr("y2", y(t)).attr("x1", left).attr("x2", left + 3);
        ticks.append("line").attr("y1", y(t)).attr("y2", y(t)).attr("x1", right).attr("x2", right - 3);
    });
    g.append("rect")
        .attr("x", left).attr("y", top)
        .attr("width", right - left).attr("height", bottom - top)
        .attr("fill", "none").attr("stroke", "#6d6d6d").attr("stroke-width", 1.2);
    g.append("text").attr("class", "ax-title")
        .attr("x", (left + right) / 2 + 1).attr("y", bottom + 35)
        .attr("text-anchor", "middle")
        .text("Equivalent diameter (µm)");
    g.append("text").attr("class", "ax-title")
        .attr("transform", `translate(${left - 28},${(top + bottom) / 2 - 1}) rotate(-90)`)
        .attr("text-anchor", "middle")
        .text("Circularity");
}

// Panel A
let xA = d3.scaleLinear().domain([0, 40]).range([257, 663.5]);
let yA = d3.scaleLinear().domain([0, 1]).range([453, 49]);
let plotA = svg.append("g").attr("id", "panelA");
let scatter = [strayPts, tailPts, lowerPts, midPts, innerPts, corePts, clusterPts, columnPts].flatMap(toPairs);

plotA.append("g").selectAll("circle")
    .data(scatter)
    .enter()
    .append("circle")
    .attr("cx", d => xA(d[0]))
    .attr("cy", d => yA(d[1]))
    .attr("r", 0.8)
    .style("fill", "#1c1c1c");

drawAxes(plotA, xA, yA, 257, 49, 663.5, 453);
svg.append("text").attr("class", "panel").attr("x", 207).attr("y", 42).text("A");

// Panel B
let xB = d3.scaleLinear().domain([0, 40]).range([744, 1152]);
let yB = d3.scaleLinear().domain([0, 1]).range([456, 49]);
let plotB = svg.append("g").attr("id", "panelB");
let defs = svg.append("defs");
defs.append("clipPath").attr("id", "clipB").append("rect")
    .attr("x", 744).attr("y", 49).attr("width", 408).attr("height", 407);
[["soften", 0.7], ["softer", 2], ["softish", 1.2]].forEach(f => {
    defs.append("filter").attr("id", f[0])
        .attr("x", "-10%").attr("y", "-10%").attr("width", "120%").attr("height", "120%")
        .append("feGaussianBlur").attr("stdDeviation", f[1]);
});

let outline = d3.line()
    .x(d => xB(d[0]))
    .y(d => yB(d[1]))
    .curve(d3.curveCatmullRomClosed.alpha(0.5));

plotB.append("rect")
    .attr("x", 744).attr("y", 49).attr("width", 408).attr("height", 407)
    .attr("fill", "#253479");

// middle bands run together in the original, the outer ones keep a crisp edge
plotB.append("g").attr("clip-path", "url(#clipB)")
    .selectAll("path")
    .data(bands)
    .enter()
    .append("path")
    .attr("d", d => outline(toPairs(d)))
    .attr("fill", (d, i) => bandColors[i])
    .attr("filter", (d, i) => i >= 3 && i <= 8 ? "url(#softer)" : i >= 9 && i <= 12 ? "url(#softish)" : "url(#soften)");

drawAxes(plotB, xB, yB, 744, 49, 1152, 456);
svg.append("text").attr("class", "panel").attr("x", 692).attr("y", 42).text("B");

plotB.append("g").selectAll("text")
    .data(statLines)
    .enter()
    .append("text")
    .attr("class", "stats")
    .attr("x", 1016)
    .attr("y", (d, i) => 365 + i * 26)
    .text(d => d);

// Caption
let cap = svg.append("g").attr("class", "cap");
let line1 = cap.append("text").attr("x", 24).attr("y", 553).attr("textLength", 1258).attr("lengthAdjust", "spacingAndGlyphs");
line1.append("tspan").attr("font-weight", 700).text("FIGURE 5 | ");
line1.append("tspan").text("Example of particle shape distribution plot. Circularity against equivalent diameter (S) diagram for clasts in tonalite hosted pseudotachylite before ");
line1.append("tspan").attr("font-weight", 700).text("(A)");
let line2 = cap.append("text").attr("x", 24).attr("y", 572).attr("textLength", 1296).attr("lengthAdjust", "spacingAndGlyphs");
line2.append("tspan").text("and after ");
line2.append("tspan").attr("font-weight", 700).text("(B)");
line2.append("tspan").text(" contouring. Associated mean, standard deviation (");
line2.append("tspan").attr("font-style", "italic").attr("font-family", "Liberation Serif").text("σ");
line2.append("tspan").text(") and standard error (");
line2.append("tspan").attr("font-style", "italic").attr("font-family", "Liberation Serif").text("σ");
line2.append("tspan").attr("font-style", "italic").attr("font-family", "Liberation Serif").attr("font-size", 9).attr("dy", 3).text("x̄");
line2.append("tspan").attr("dy", -3).text(") are indicated. Colors are representative of point concentration with blue");
cap.append("text").attr("x", 24).attr("y", 591).attr("textLength", 509).attr("lengthAdjust", "spacingAndGlyphs")
    .text("representing the low concentration and red high concentration.");
</script>
</body>
</html>
